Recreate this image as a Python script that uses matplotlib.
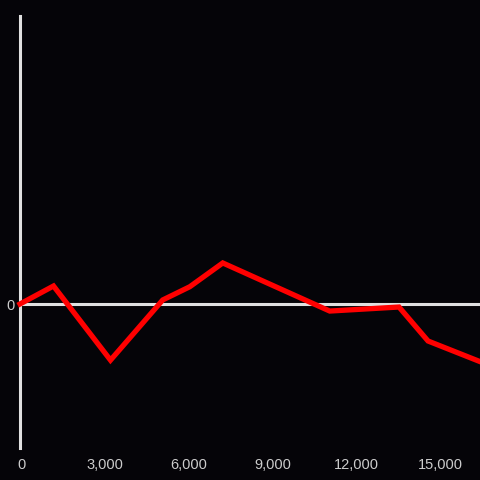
import matplotlib
matplotlib.use("Agg")
import matplotlib.pyplot as plt
import matplotlib.transforms as mtransforms
from matplotlib.ticker import FuncFormatter

# values
x_vals = [0, 1200, 3240, 5110, 6080, 7260, 11090, 13570, 14610, 16470]
y_vals = [0, 12.5, -39, 2.8, 12, 28.5, -4.9, -2.1, -25.7, -40]
x_ticks = [0, 3000, 6000, 9000, 12000, 15000]
y_ticks = [0]

bg = "#050408"
axis_col = "#e0e0e0"
text_col = "#cccccc"

plt.rcParams["font.family"] = ["Liberation Sans", "DejaVu Sans"]

fig = plt.figure(figsize=(4.8, 4.8), dpi=100, facecolor=bg)
ax = fig.add_axes([20 / 480, 32 / 480, 460 / 480, 432 / 480], facecolor=bg)

ax.axhline(0, color=axis_col, lw=2.2, zorder=2)
ax.plot(x_vals, y_vals, color="#ff0000", lw=3.8, zorder=3,
        solid_joinstyle="miter", clip_on=False)

ax.set_xlim(0, 16470)
ax.set_ylim(-100, 200)
ax.set_xticks(x_ticks)
ax.set_yticks(y_ticks)
ax.xaxis.set_major_formatter(FuncFormatter(lambda v, p: f"{int(v):,}"))

for s in ["top", "right", "bottom"]:
    ax.spines[s].set_visible(False)
ax.spines["left"].set_color(axis_col)
ax.spines["left"].set_linewidth(2.2)

ax.tick_params(axis="both", length=0, labelsize=10.5, colors=text_col)
ax.tick_params(axis="x", pad=7)
ax.tick_params(axis="y", pad=4)

# nudge x labels slightly right like the reference
shift = mtransforms.ScaledTranslation(1.5 / 100, 0, fig.dpi_scale_trans)
for lbl in ax.get_xticklabels():
    lbl.set_transform(lbl.get_transform() + shift)

fig.savefig("out.png", dpi=100, facecolor=bg)
